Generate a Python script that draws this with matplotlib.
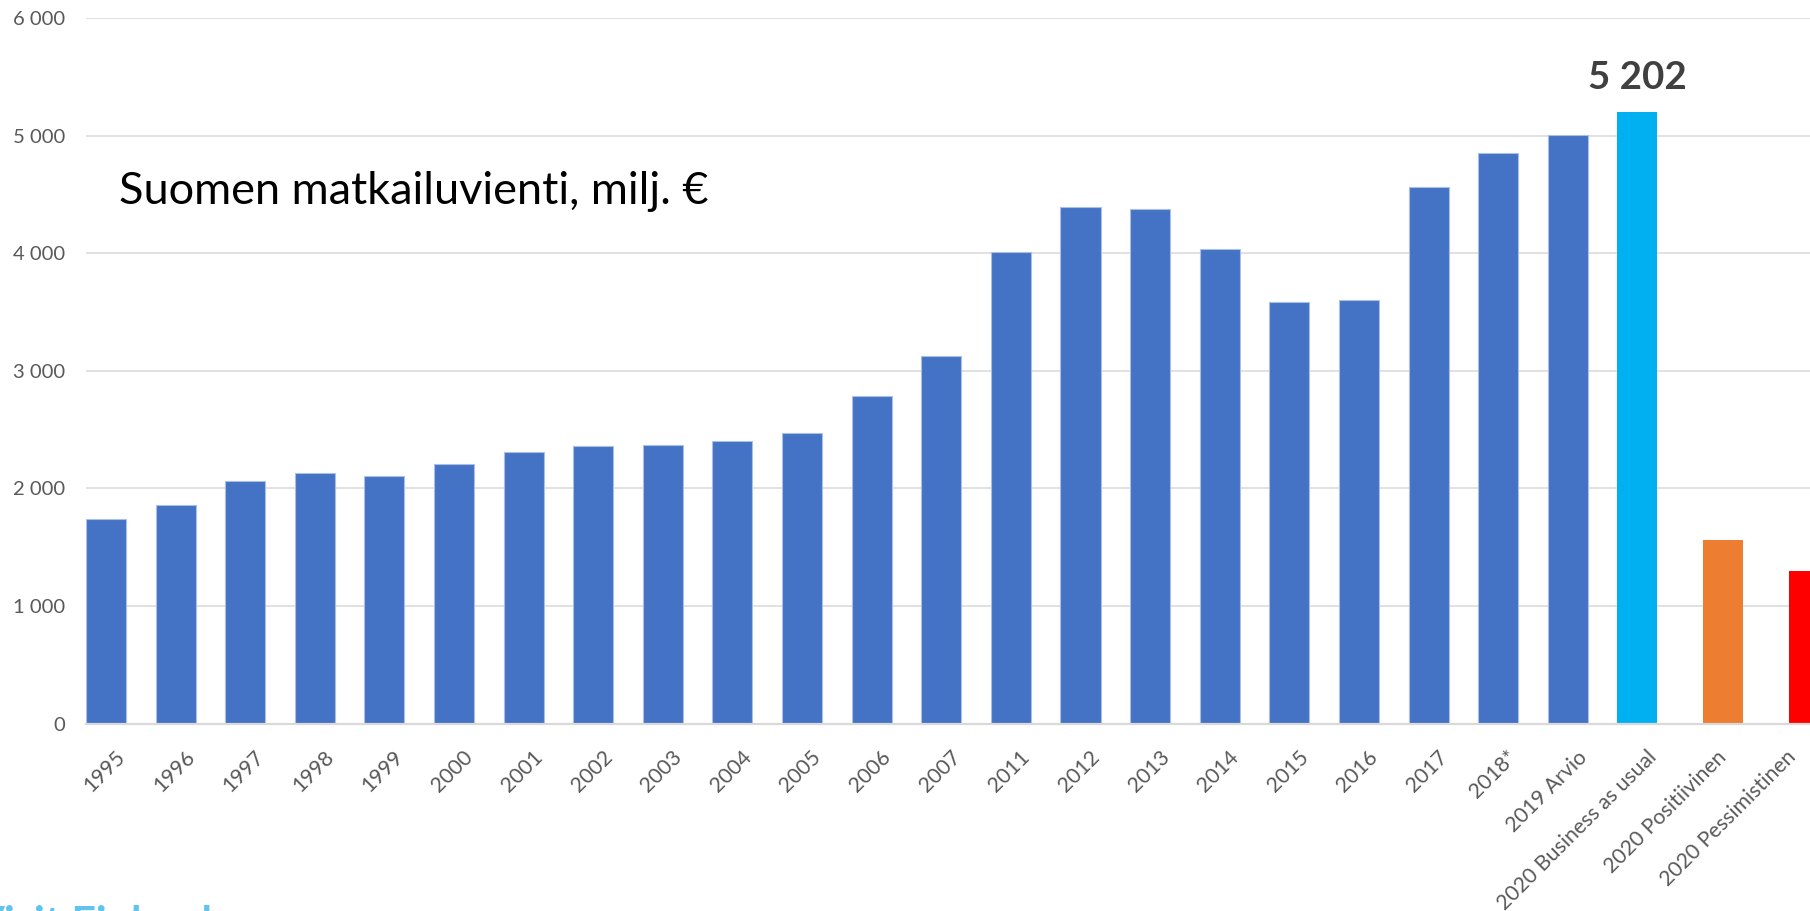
import matplotlib
matplotlib.use("Agg")
import matplotlib.pyplot as plt
from matplotlib.transforms import ScaledTranslation

# Data
labels = ['1995', '1996', '1997', '1998', '1999', '2000', '2001', '2002', '2003',
          '2004', '2005', '2006', '2007', '2011', '2012', '2013', '2014', '2015',
          '2016', '2017', '2018*', '2019 Arvio', '2020 Business as usual',
          '2020 Positiivinen', '2020 Pessimistinen']
values = [1740, 1861, 2062, 2130, 2105, 2209, 2309, 2362, 2368, 2402, 2470, 2785,
          3125, 4012, 4392, 4372, 4032, 3587, 3599, 4562, 4849, 5002, 5202,
          1560, 1300]
highlight = 22  # index of the labelled bar

# Styling
blue, cyan, orange, red = '#4472C4', '#00B0F0', '#ED7D31', '#FF0000'
colors = [blue] * 22 + [cyan, orange, red]
edges = ['#A9BFE6'] * 22 + ['none'] * 3
shift = [0] * 23 + [0.23, 0.46]
grid_col = '#D9D9D9'
tick_col = '#595959'
font = 'Lato'

plt.rcParams['font.family'] = [font, 'DejaVu Sans']

fig = plt.figure(figsize=(18.1, 9.11), dpi=100)
ax = fig.add_axes([0.0475, 0.2058, 0.9525, 0.7745])

xpos = [i + s for i, s in enumerate(shift)]
ax.bar(xpos, values, width=0.575, color=colors, edgecolor=edges,
       linewidth=0.8, zorder=3)

ax.set_xlim(-0.2875, 24.48)
ax.set_ylim(0, 6000)
ax.set_yticks(range(0, 6001, 1000))
ax.set_yticklabels([f"{v:,.0f}".replace(",", " ") for v in range(0, 6001, 1000)])
ax.yaxis.grid(True, color=grid_col, linewidth=1.1, zorder=0)
ax.set_axisbelow(True)

for side in ['top', 'right', 'left']:
    ax.spines[side].set_visible(False)
ax.spines['bottom'].set_color(grid_col)
ax.spines['bottom'].set_linewidth(1.6)
ax.spines['bottom'].set_zorder(4)

ax.tick_params(axis='y', length=0, pad=15, labelsize=14.6, labelcolor=tick_col)
ax.tick_params(axis='x', length=0, pad=22, labelsize=15.3, labelcolor=tick_col)

ax.set_xticks(range(len(labels)))
ax.set_xticklabels(labels, rotation=45, ha='right', va='center',
                   rotation_mode='anchor')
offset = ScaledTranslation(0.16, 0, fig.dpi_scale_trans)
for lbl in ax.get_xticklabels():
    lbl.set_transform(lbl.get_transform() + offset)

# Value label on the highlighted bar
ax.annotate(f"{values[highlight]:,.0f}".replace(",", " "),
            xy=(xpos[highlight], values[highlight]), xytext=(0, 16.5),
            textcoords='offset points', ha='center', va='baseline',
            fontsize=27.7, fontweight='bold', color='#404040')

# Title inside the plot area
fig.text(119 / 1810, (911 - 204) / 911, 'Suomen matkailuvienti, milj. €',
         fontsize=32.5, color='black', va='baseline', ha='left')

# Logo text cut at the bottom edge
fig.text(212 / 1810, -0.03, 'Visit Finland', fontsize=31, fontweight='bold',
         color='#62C3F1', ha='right', va='baseline')

fig.savefig('out.png', dpi=100)
